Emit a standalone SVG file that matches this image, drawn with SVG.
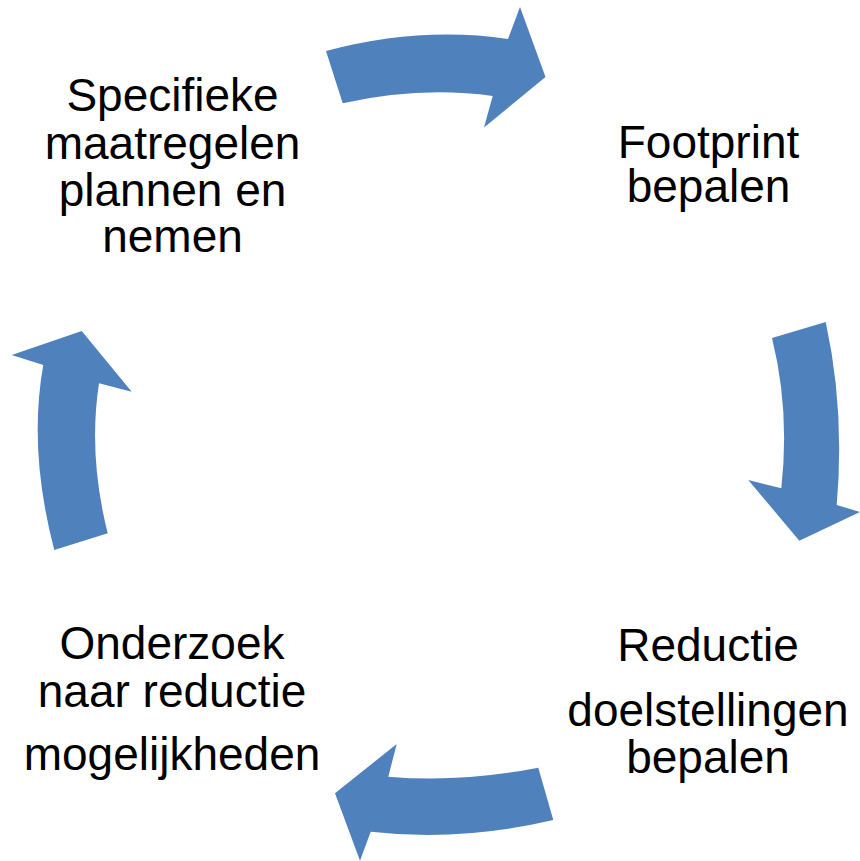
<svg xmlns="http://www.w3.org/2000/svg" width="860" height="861" viewBox="0 0 860 861">
<style>
.arr{fill:#4F81BD;stroke:none}
.t{font-family:"Liberation Sans",Arial,sans-serif;font-size:46px;fill:#000;text-anchor:middle}
</style>
<rect width="860" height="861" fill="#fff"/>
<g id="connectors">
<path class="arr" d="M326,51 Q420,26 508,39 L520,7 L545.5,77 L484,127.5 L492.7,96 Q420,86 342.7,103.3 Z"/>
<path class="arr" d="M825.7,322 Q845,410 836.7,505 L860,512 L799.3,540.7 L748.3,480 L781.3,488.3 Q790,410 772,338 Z"/>
<path class="arr" d="M553.3,820 Q460,842 370.7,831.7 L360,860.7 L335,793.3 L396.7,744 L388.3,776.7 Q460,783 538.3,767.7 Z"/>
<path class="arr" d="M54.3,550 Q28,450 43.3,365 L11.7,355 L81.7,331 L131.7,391.7 L99,383.3 Q88,455 107.7,533.3 Z"/>
</g>
<g id="node-specifieke">
<text class="t" x="172.5" y="111">Specifieke</text>
<text class="t" x="172.5" y="159">maatregelen</text>
<text class="t" x="172.5" y="206">plannen en</text>
<text class="t" x="172.5" y="252">nemen</text>
</g>
<g id="node-footprint">
<text class="t" x="708.5" y="158">Footprint</text>
<text class="t" x="708.5" y="202">bepalen</text>
</g>
<g id="node-reductie">
<text class="t" x="708" y="661">Reductie</text>
<text class="t" x="708" y="726">doelstellingen</text>
<text class="t" x="708" y="773">bepalen</text>
</g>
<g id="node-onderzoek">
<text class="t" x="172" y="659">Onderzoek</text>
<text class="t" x="172" y="707">naar reductie</text>
<text class="t" x="172" y="770">mogelijkheden</text>
</g>
</svg>
